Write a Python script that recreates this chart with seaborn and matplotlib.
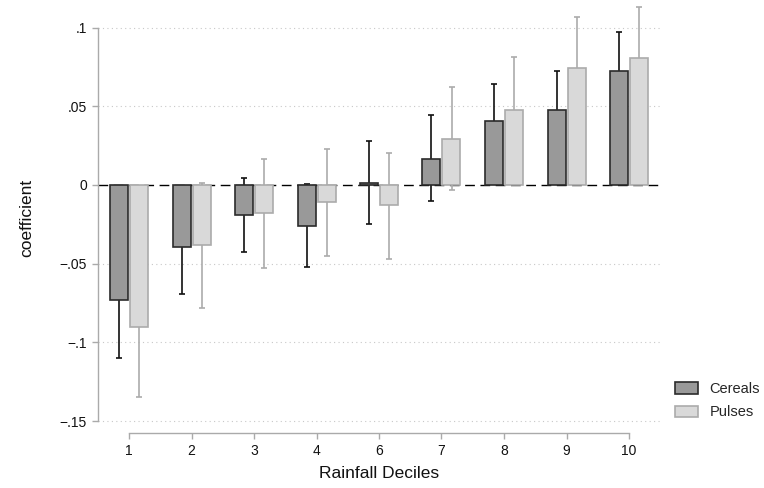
import numpy as np
import pandas as pd
import matplotlib
matplotlib.use("Agg")
import matplotlib.pyplot as plt
import seaborn as sns

deciles = ["1", "2", "3", "4", "6", "7", "8", "9", "10"]
cereals = [-0.073, -0.0396, -0.019, -0.0258, 0.0015, 0.0167, 0.0407, 0.0476, 0.0722]
cereals_lo = [-0.110, -0.069, -0.0428, -0.052, -0.0248, -0.0102, 0.0174, 0.023, 0.047]
cereals_hi = [-0.036, -0.010, 0.0043, 0.0004, 0.028, 0.0443, 0.064, 0.0722, 0.0974]
pulses = [-0.0904, -0.038, -0.018, -0.0108, -0.0129, 0.0294, 0.0474, 0.0741, 0.0807]
pulses_lo = [-0.135, -0.078, -0.053, -0.045, -0.0468, -0.0034, 0.0133, 0.041, 0.048]
pulses_hi = [-0.046, 0.001, 0.0165, 0.023, 0.0203, 0.0625, 0.0815, 0.107, 0.1133]
yticks = [-0.15, -0.1, -0.05, 0, 0.05, 0.1]
ytick_labels = ["\u2212.15", "\u2212.1", "\u2212.05", "0", ".05", ".1"]

sns.set_theme(style="white")
plt.rcParams["font.family"] = ["Liberation Sans", "DejaVu Sans"]

df = pd.DataFrame({
    "decile": deciles * 2,
    "coef": cereals + pulses,
    "crop": ["Cereals"] * len(deciles) + ["Pulses"] * len(deciles),
})

fig = plt.figure(figsize=(7.64, 4.88), dpi=100)
ax = fig.add_axes([98 / 764, 55 / 488, (661 - 98) / 764, (488 - 55 - 3) / 488])

fills = {"Cereals": "#999999", "Pulses": "#d9d9d9"}
edges = {"Cereals": "#2b2b2b", "Pulses": "#ababab"}
errc = {"Cereals": "#111111", "Pulses": "#ababab"}

sns.barplot(data=df, x="decile", y="coef", hue="crop", order=deciles,
            hue_order=["Cereals", "Pulses"], palette=fills, errorbar=None,
            width=0.64, gap=0.1, ax=ax, zorder=3, legend=True)

for cont, name, lo, hi in zip(ax.containers, ["Cereals", "Pulses"],
                              [cereals_lo, pulses_lo], [cereals_hi, pulses_hi]):
    xs = []
    for p in cont.patches:
        p.set_edgecolor(edges[name])
        p.set_linewidth(1.2)
        xs.append(p.get_x() + p.get_width() / 2)
    xs = np.array(xs)
    lo = np.array(lo); hi = np.array(hi)
    mid = (lo + hi) / 2
    ax.errorbar(xs, mid, yerr=[mid - lo, hi - mid], fmt="none", ecolor=errc[name],
                elinewidth=1.2, capsize=2.5, capthick=1.2, zorder=2, clip_on=False)

ax.axhline(0, color="black", lw=1.0, ls=(0, (7, 4)), zorder=1.5)
for yv in [-0.15, -0.1, -0.05, 0.05, 0.1]:
    ax.axhline(yv, color="#c8c8c8", lw=0.8, ls=(0, (1, 3)), zorder=0)

ax.set_xlim(-0.496, 8.512)
ax.set_ylim(-0.1576, 0.1156)
ax.set_yticks(yticks)
ax.set_yticklabels(ytick_labels)

for s in ["top", "right"]:
    ax.spines[s].set_visible(False)
ax.spines["left"].set_color("#aaaaaa")
ax.spines["bottom"].set_color("#aaaaaa")
ax.spines["left"].set_bounds(-0.15, 0.1)
ax.spines["bottom"].set_bounds(0, 8)
ax.spines["left"].set_linewidth(1.0)
ax.spines["bottom"].set_linewidth(1.0)
ax.tick_params(axis="both", which="both", direction="out", length=4, width=1.0,
               color="#aaaaaa", labelsize=10, labelcolor="#111111", pad=4,
               left=True, bottom=True)

ax.set_xlabel("Rainfall Deciles", fontsize=12.5, color="#111111", labelpad=6)
ax.set_ylabel("coefficient", fontsize=12.5, color="#111111", labelpad=18)

leg = ax.legend(loc="upper left", bbox_to_anchor=(675 / 764, 1 - 382 / 488),
                bbox_transform=fig.transFigure, frameon=False, fontsize=10.5,
                handlelength=1.6, handleheight=0.8, labelspacing=0.65, borderpad=0,
                borderaxespad=0, handletextpad=0.75)
for h, name in zip(leg.legend_handles, ["Cereals", "Pulses"]):
    h.set_facecolor(fills[name])
    h.set_edgecolor(edges[name])
    h.set_linewidth(1.2)

fig.savefig("out.png", dpi=100)
